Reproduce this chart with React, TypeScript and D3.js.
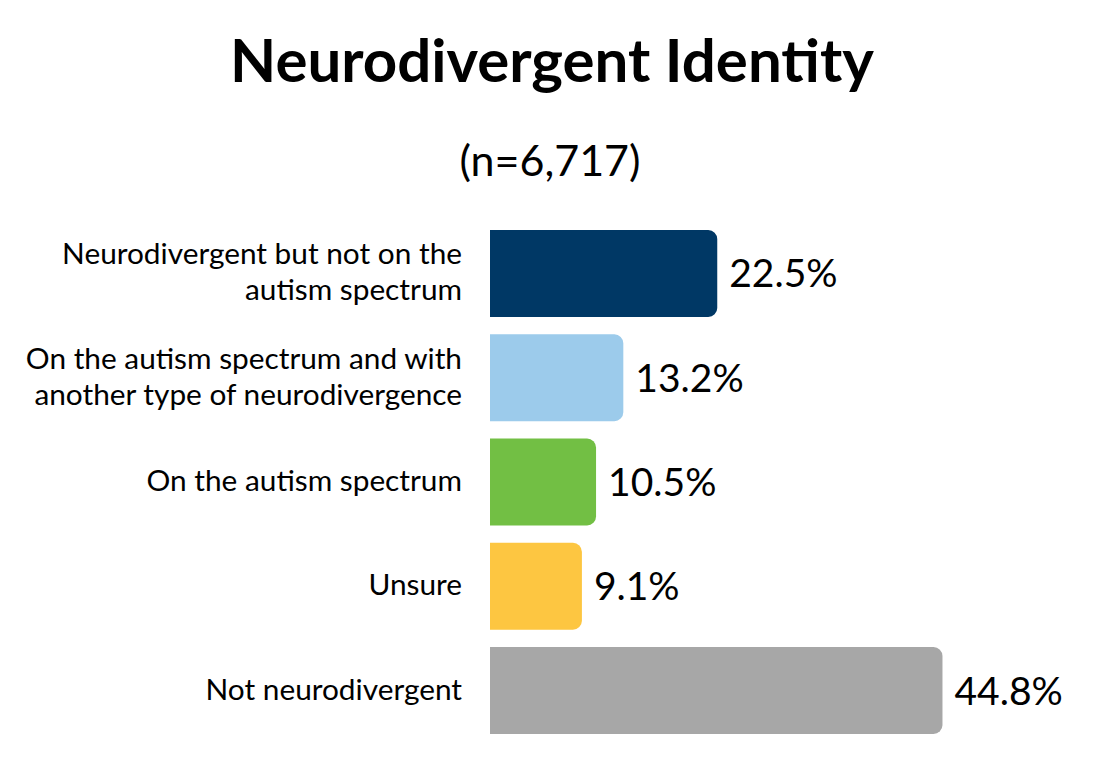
import * as d3 from 'd3';

const categories = [
  ['Neurodivergent but not on the', 'autism spectrum'],
  ['On the autism spectrum and with', 'another type of neurodivergence'],
  ['On the autism spectrum'],
  ['Unsure'],
  ['Not neurodivergent'],
];
const values = [22.5, 13.2, 10.5, 9.1, 44.8];
const colors = ['#003865', '#9ccbeb', '#72bf44', '#fdc641', '#a7a7a7'];

const title = 'Neurodivergent Identity';
const subtitle = '(n=6,717)';

const WIDTH = 1100;
const HEIGHT = 765;
const FONT = 'Lato, "Noto Sans", sans-serif';

// rounded right end, square left end
function barPath(x0: number, x1: number, y0: number, h: number, r: number) {
  const p = d3.path();
  p.moveTo(x0, y0);
  p.lineTo(x1 - r, y0);
  p.arcTo(x1, y0, x1, y0 + r, r);
  p.lineTo(x1, y0 + h - r);
  p.arcTo(x1, y0 + h, x1 - r, y0 + h, r);
  p.lineTo(x0, y0 + h);
  p.closePath();
  return p.toString();
}

export default function App() {
  const idx = d3.range(values.length);
  const x = d3.scaleLinear().domain([0, 50]).range([490, 995]);
  const y = d3
    .scaleBand<number>()
    .domain(idx)
    .range([230, 734])
    .paddingInner(0.1655)
    .paddingOuter(0);
  const lineGap = 36;

  return (
    <>
      <style>{`body{margin:0}`}</style>
      <svg width={WIDTH} height={HEIGHT} style={{ display: 'block', fontFamily: FONT }}>
        <rect width={WIDTH} height={HEIGHT} fill="#fff" />
        <text x={552} y={82} textAnchor="middle" fontSize={60} fontWeight={700} fill="#000">
          {title}
        </text>
        <text x={550} y={176} textAnchor="middle" fontSize={43} fill="#000">
          {subtitle}
        </text>
        {idx.map((i) => {
          const y0 = y(i)!;
          const h = y.bandwidth();
          const cy = y0 + h / 2;
          const lines = categories[i];
          const first = cy - ((lines.length - 1) * lineGap) / 2;
          return (
            <g key={i}>
              <path d={barPath(x(0), x(values[i]), y0, h, 9)} fill={colors[i]} />
              {lines.map((ln, j) => (
                <text
                  key={j}
                  x={462}
                  y={first + j * lineGap + 9}
                  textAnchor="end"
                  fontSize={29.8}
                  fill="#000"
                >
                  {ln}
                </text>
              ))}
              <text x={x(values[i]) + 12} y={cy + 14} fontSize={39} fill="#000">
                {values[i].toFixed(1)}%
              </text>
            </g>
          );
        })}
      </svg>
    </>
  );
}
